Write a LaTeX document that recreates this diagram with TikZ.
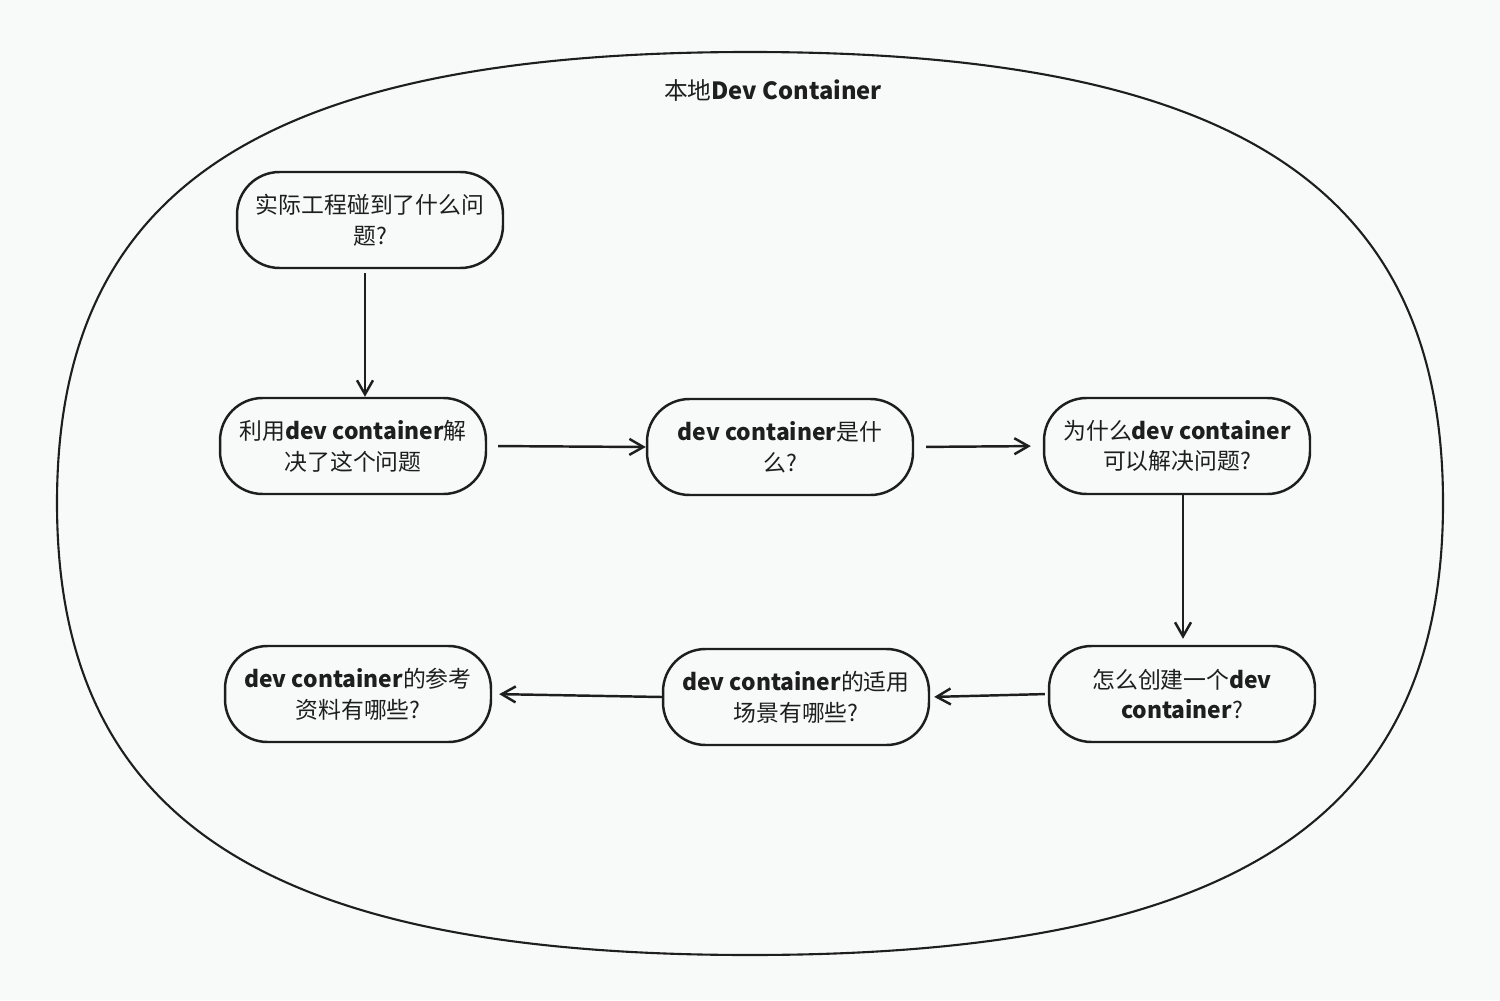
\documentclass[tikz,border=0pt]{standalone}
\usepackage{fontspec}
\setmainfont{Noto Sans CJK SC}
\usepackage{tikz}
\usetikzlibrary{arrows.meta,positioning}
\definecolor{canvasgray}{HTML}{F8F9F9}
\definecolor{inkblack}{HTML}{1E1E1E}

\tikzset{
  qbox/.style={draw=inkblack,line width=1.4pt,rounded corners=0.85cm,
    minimum width=5.32cm,minimum height=1.92cm,align=center,
    font=\fontsize{13}{17.5}\selectfont,text=inkblack},
  flow/.style={draw=inkblack,line width=1.4pt,-{Straight Barb[length=2.8mm,width=3.2mm]}}
}

\begin{document}
\begin{tikzpicture}[x=0.02cm,y=-0.02cm]
  % Canvas (pixel coordinates, 1500 x 1000)
  \fill[canvasgray] (0,0) rectangle (1500,1000);
  \useasboundingbox (0,0) rectangle (1500,1000);
  % Outer frame
  \draw[inkblack,line width=1.2pt]
    (750,52) .. controls (1235,52) and (1443,187) .. (1443,503)
    .. controls (1443,819) and (1235,955) .. (750,955)
    .. controls (265,955) and (57,819) .. (57,503)
    .. controls (57,187) and (265,52) .. cycle;
  % Title
  \node[font=\fontsize{13.5}{16}\selectfont,text=inkblack] (title) at (773,90) {本地\textbf{Dev Container}};
  % Questions
  \node[qbox] (q1) at (370,220) {实际工程碰到了什么问\\题?};
  \node[qbox] (q2) at (353,446) {利用\textbf{dev container}解\\决了这个问题};
  \node[qbox] (q3) at (780,447) {\textbf{dev container}是什\\么?};
  \node[qbox] (q4) at (1177,446) {为什么\textbf{dev container}\\可以解决问题?};
  \node[qbox] (q5) at (1182,694) {怎么创建一个\textbf{dev}\\\textbf{container}?};
  \node[qbox] (q6) at (796,697) {\textbf{dev container}的适用\\场景有哪些?};
  \node[qbox] (q7) at (358,694) {\textbf{dev container}的参考\\资料有哪些?};
  % Arrows
  \coordinate (xa) at (365,0);
  \coordinate (xb) at (1183,0);
  \draw[flow,shorten <=0.08cm] (q1.south -| xa) -- (q2.north -| xa);
  \draw[flow,shorten <=0.22cm] (q2.east) -- (q3.west);
  \draw[flow,shorten <=0.24cm,shorten >=0.24cm] (q3.east) -- (q4.west);
  \draw[flow,shorten >=0.12cm] (q4.south -| xb) -- (q5.north -| xb);
  \draw[flow,shorten <=0.06cm,shorten >=0.08cm] (q5.west) -- (q6.east);
  \draw[flow,shorten >=0.14cm] (q6.west) -- (q7.east);
\end{tikzpicture}
\end{document}
